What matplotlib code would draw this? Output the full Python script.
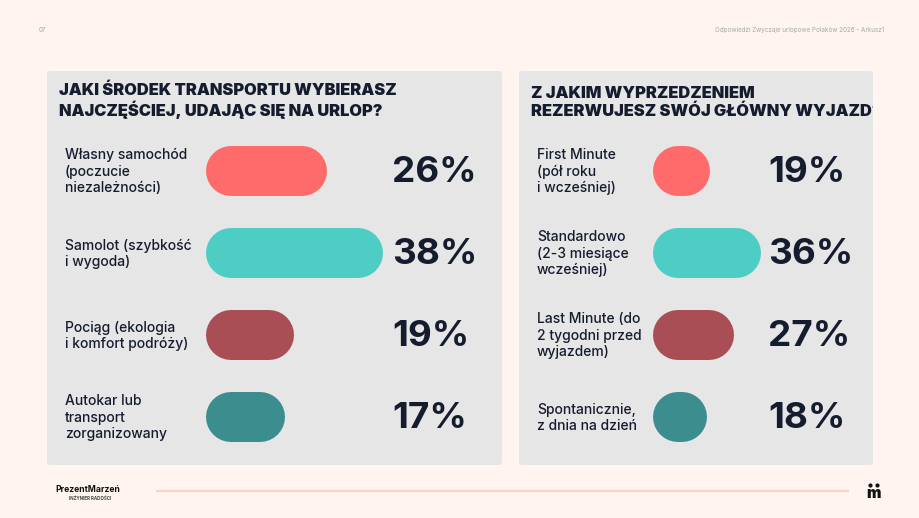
import matplotlib
matplotlib.use("Agg")
import matplotlib.pyplot as plt
from matplotlib.patches import FancyBboxPatch
from matplotlib.transforms import Bbox, TransformedBbox

# ------------------------------------
# DATA
# ------------------------------------
transport_title = "JAKI ŚRODEK TRANSPORTU WYBIERASZ\nNAJCZĘŚCIEJ, UDAJĄC SIĘ NA URLOP?"
transport_labels = [
    "Własny samochód\n(poczucie\nniezależności)",
    "Samolot (szybkość\ni wygoda)",
    "Pociąg (ekologia\ni komfort podróży)",
    "Autokar lub\ntransport\nzorganizowany",
]
transport_values = [26, 38, 19, 17]

booking_title = "Z JAKIM WYPRZEDZENIEM\nREZERWUJESZ SWÓJ GŁÓWNY WYJAZD?"
booking_labels = [
    "First Minute\n(pół roku\ni wcześniej)",
    "Standardowo\n(2-3 miesiące\nwcześniej)",
    "Last Minute (do\n2 tygodni przed\nwyjazdem)",
    "Spontanicznie,\nz dnia na dzień",
]
booking_values = [19, 36, 27, 18]

header_left = "07"
header_right = "Odpowiedzi Zwyczaje urlopowe Polaków 2026 - Arkusz1"

# ------------------------------------
# STYLE
# ------------------------------------
BG = "#FFF4EF"
PANEL = "#E6E6E6"
INK = "#141C2E"
BAR_COLORS = ["#FF6B6B", "#4ECDC4", "#A84E54", "#3C8E8E"]

plt.rcParams["font.family"] = ["Inter", "DejaVu Sans"]

fig = plt.figure(figsize=(9.2, 5.18), dpi=100)
fig.patch.set_facecolor(BG)
ax = fig.add_axes([0, 0, 1, 1])
ax.set_xlim(0, 920)
ax.set_ylim(518, 0)
ax.axis("off")

BAR_H = 50  # px
PANEL_TOP, PANEL_BOTTOM = 71, 465


def draw_panel(x0, x1, title, labels, values, px_per_pct, label_x, bar_x, pct_x):
    panel = FancyBboxPatch(
        (x0, PANEL_TOP), x1 - x0, PANEL_BOTTOM - PANEL_TOP,
        boxstyle="round,pad=0,rounding_size=3",
        fc=PANEL, ec="none"
    )
    ax.add_patch(panel)

    # baseline of a multi-line text is the last line's baseline
    t = ax.text(
        x0 + 12, 115.7, title,
        fontsize=11.8, fontweight="black", color=INK,
        ha="left", va="baseline", linespacing=1.15,
        clip_on=True
    )
    # title gets cut at the panel edge, like in the slide
    t.set_clip_box(TransformedBbox(
        Bbox([[x0, PANEL_TOP], [x1, PANEL_BOTTOM]]), ax.transData
    ))

    for i, (label, value) in enumerate(zip(labels, values)):
        yc = 171 + 82 * i
        lines = label.split("\n")
        n = len(lines)
        for j, line in enumerate(lines):
            ly = yc + (j - (n - 1) / 2) * 16.5
            ax.text(
                label_x, ly + 4.8, line,
                fontsize=10, fontweight="medium", color=INK,
                ha="left", va="baseline"
            )

        # pill bar: thick line with round caps
        w = value * px_per_pct
        r = BAR_H / 2
        ax.plot(
            [bar_x + r, bar_x + w - r], [yc, yc],
            color=BAR_COLORS[i], lw=BAR_H * 72 / 100,
            solid_capstyle="round"
        )

        ax.text(
            pct_x, yc + 11.5, f"{value}%",
            fontsize=26.5, fontweight="bold", color=INK,
            ha="left", va="baseline"
        )


draw_panel(47, 502, transport_title, transport_labels, transport_values,
           4.65, 65, 206, 392)
draw_panel(519, 873, booking_title, booking_labels, booking_values,
           3.0, 537, 653, 768)

# ------------------------------------
# HEADER / FOOTER
# ------------------------------------
ax.text(39, 30, header_left, fontsize=4.5, color="#A8A8A8",
        ha="left", va="center")
ax.text(884, 30, header_right, fontsize=4.5, color="#A8A8A8",
        ha="right", va="center")

ax.plot([156, 849], [491, 491], color="#F9D3CB", lw=1.6,
        solid_capstyle="butt")

ax.text(55, 489, "PrezentMarzeń", fontsize=6.2, fontweight="bold",
        color="#111111", ha="left", va="center")
ax.text(90, 498, "INŻYNIER RADOŚCI", fontsize=3.2, fontweight="bold",
        color="#444444", ha="center", va="center")

ax.text(874, 493, "m", fontsize=11, fontweight="black", color="#111111",
        ha="center", va="center")
ax.plot([870.5, 877.5], [484.5, 484.5], "o", ms=2, color="#111111")

fig.savefig("out.png", dpi=100, facecolor=BG)
